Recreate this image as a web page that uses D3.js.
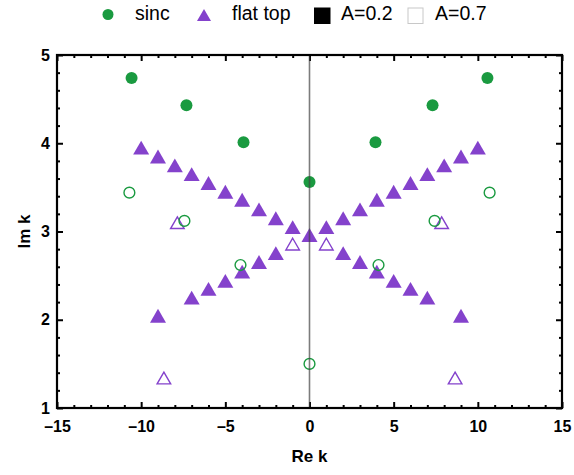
<!DOCTYPE html>
<html>
<head>
<meta charset="utf-8">
<script src="https://cdn.jsdelivr.net/npm/d3@7"></script>
<style>
  body { margin: 0; background: #fff; }
  text { font-family: "Liberation Sans", Arial, sans-serif; }
</style>
</head>
<body>
<div id="main"></div>
<script>
// poles, [Re k, Im k]
// A=0.2 (filled)
const sincA02 = [[-10.57, 4.74], [-7.31, 4.43], [-3.92, 4.01], [0, 3.56], [3.92, 4.01], [7.31, 4.43], [10.57, 4.74]];
const flatA02 = [
  [-10, 3.95], [-9, 3.85], [-8, 3.75], [-7, 3.65], [-6, 3.55], [-5, 3.45], [-4, 3.36], [-3, 3.25], [-2, 3.15], [-1, 3.05],
  [0, 2.96],
  [2, 2.755], [3, 2.655], [4, 2.545], [5, 2.44], [6, 2.35], [7, 2.25], [9, 2.045],
  [-9, 2.045], [-7, 2.25], [-6, 2.35], [-5, 2.44], [-4, 2.545], [-3, 2.655], [-2, 2.755],
  [1, 3.05], [2, 3.15], [3, 3.25], [4, 3.36], [5, 3.45], [6, 3.55], [7, 3.65], [8, 3.75], [9, 3.85], [10, 3.95]
];
// A=0.7 (open)
const sincA07 = [[-10.7, 3.44], [-7.43, 3.12], [-4.1, 2.62], [0, 1.5], [4.1, 2.62], [7.43, 3.12], [10.7, 3.44]];
const flatA07 = [[-8.65, 1.34], [-7.85, 3.1], [-1, 2.857], [1, 2.857], [7.85, 3.1], [8.65, 1.34]];

const xMajor = [-15, -10, -5, 0, 5, 10, 15];
const yMajor = [1, 2, 3, 4, 5];
const legendLabels = ["sinc", "flat top", "A=0.2", "A=0.7"];

const green = "#1a9a40";
const purple = "#8442cc";

const margin = {top: 55, right: 12, bottom: 67, left: 57};
const width = 574 - margin.left - margin.right;
const height = 475 - margin.top - margin.bottom;

const xScale = d3.scaleLinear().domain([-15, 15]).range([0, width]);
const yScale = d3.scaleLinear().domain([1, 5]).range([height, 0]);

const xMinor = d3.range(-15, 15.01, 1).filter(d => d % 5 !== 0);
const yMinor = d3.range(1, 5.001, 0.2).map(d => +d.toFixed(1)).filter(d => Math.abs(d - Math.round(d)) > 1e-6);

const svg = d3.select("#main").append("svg")
    .attr("width", 574)
    .attr("height", 475);

const g = svg.append("g")
    .attr("transform", "translate(" + margin.left + "," + margin.top + ")");

const fmt = d => d < 0 ? "\u2013" + (-d) : String(d);

function styleAxis(sel) {
  sel.select(".domain").remove();
  sel.selectAll("line").attr("stroke", "#000").attr("stroke-width", 2);
  sel.selectAll("text")
      .attr("font-size", 16)
      .attr("font-weight", "bold")
      .attr("fill", "#000")
      .attr("font-family", '"Liberation Sans", Arial, sans-serif');
}

// bottom
g.append("g").attr("transform", "translate(0," + height + ")")
    .call(d3.axisBottom(xScale).tickValues(xMajor).tickFormat(fmt).tickSize(-6).tickPadding(13))
    .call(styleAxis);
g.append("g").attr("transform", "translate(0," + height + ")")
    .call(d3.axisBottom(xScale).tickValues(xMinor).tickFormat("").tickSize(-3))
    .call(styleAxis);
// top
g.append("g")
    .call(d3.axisTop(xScale).tickValues(xMajor).tickFormat("").tickSize(-6))
    .call(styleAxis);
g.append("g")
    .call(d3.axisTop(xScale).tickValues(xMinor).tickFormat("").tickSize(-3))
    .call(styleAxis);
// left
g.append("g")
    .call(d3.axisLeft(yScale).tickValues(yMajor).tickFormat(d3.format("d")).tickSize(-6).tickPadding(7))
    .call(styleAxis);
g.append("g")
    .call(d3.axisLeft(yScale).tickValues(yMinor).tickFormat("").tickSize(-3))
    .call(styleAxis);
// right
g.append("g").attr("transform", "translate(" + width + ",0)")
    .call(d3.axisRight(yScale).tickValues(yMajor).tickFormat("").tickSize(-6))
    .call(styleAxis);
g.append("g").attr("transform", "translate(" + width + ",0)")
    .call(d3.axisRight(yScale).tickValues(yMinor).tickFormat("").tickSize(-3))
    .call(styleAxis);

// triangles, shifted so the bounding box is centred on the point
const triFilled = d3.symbol(d3.symbolTriangle, 111);
const triOpen = d3.symbol(d3.symbolTriangle, 80);
const shift = size => Math.sqrt(size / (Math.sqrt(3) * 3)) / 2;

g.selectAll(".tri-filled")
  .data(flatA02)
  .enter().append("path")
    .attr("class", "tri-filled")
    .attr("d", triFilled)
    .attr("transform", d => "translate(" + xScale(d[0]) + "," + (yScale(d[1]) + shift(111)) + ")")
    .attr("fill", purple);

g.selectAll(".tri-open")
  .data(flatA07)
  .enter().append("path")
    .attr("class", "tri-open")
    .attr("d", triOpen)
    .attr("transform", d => "translate(" + xScale(d[0]) + "," + (yScale(d[1]) + shift(80)) + ")")
    .attr("fill", "none")
    .attr("stroke", purple)
    .attr("stroke-width", 1.4);

g.selectAll(".dot-filled")
  .data(sincA02)
  .enter().append("circle")
    .attr("class", "dot-filled")
    .attr("cx", d => xScale(d[0]))
    .attr("cy", d => yScale(d[1]))
    .attr("r", 6)
    .attr("fill", green);

g.selectAll(".dot-open")
  .data(sincA07)
  .enter().append("circle")
    .attr("class", "dot-open")
    .attr("cx", d => xScale(d[0]))
    .attr("cy", d => yScale(d[1]))
    .attr("r", 5.4)
    .attr("fill", "none")
    .attr("stroke", green)
    .attr("stroke-width", 1.4);

// Re k = 0 line
g.append("line")
    .attr("x1", xScale(0)).attr("x2", xScale(0))
    .attr("y1", 0).attr("y2", height)
    .attr("stroke", "#444")
    .attr("stroke-opacity", 0.7)
    .attr("stroke-width", 1.6);

// frame
g.append("rect")
    .attr("width", width).attr("height", height)
    .attr("fill", "none")
    .attr("stroke", "#000")
    .attr("stroke-width", 2.2);

// axis titles
svg.append("text")
    .attr("x", margin.left + xScale(0))
    .attr("y", 462)
    .attr("text-anchor", "middle")
    .attr("font-size", 17)
    .attr("font-weight", "bold")
    .text("Re k");

svg.append("text")
    .attr("transform", "translate(30," + (margin.top + height / 2) + ") rotate(-90)")
    .attr("text-anchor", "middle")
    .attr("font-size", 17)
    .attr("font-weight", "bold")
    .text("Im k");

// legend
const legend = svg.append("g");
legend.append("circle").attr("cx", 108).attr("cy", 14.5).attr("r", 5.5).attr("fill", green);
legend.append("path").attr("d", d3.symbol(d3.symbolTriangle, 85))
    .attr("transform", "translate(204," + (15 + shift(85)) + ")").attr("fill", purple);
legend.append("rect").attr("x", 314).attr("y", 7.5).attr("width", 16.5).attr("height", 16.5).attr("fill", "#000");
legend.append("rect").attr("x", 408).attr("y", 8).attr("width", 15).attr("height", 15.5)
    .attr("fill", "#fff").attr("stroke", "#c8c8c8").attr("stroke-width", 1);

const legendX = [135, 232, 341, 435];
legend.selectAll(".ltext")
  .data(legendLabels)
  .enter().append("text")
    .attr("class", "ltext")
    .attr("x", (d, i) => legendX[i])
    .attr("y", 20)
    .attr("font-size", 19.5)
    .attr("fill", "#000")
    .text(d => d);
</script>
</body>
</html>
